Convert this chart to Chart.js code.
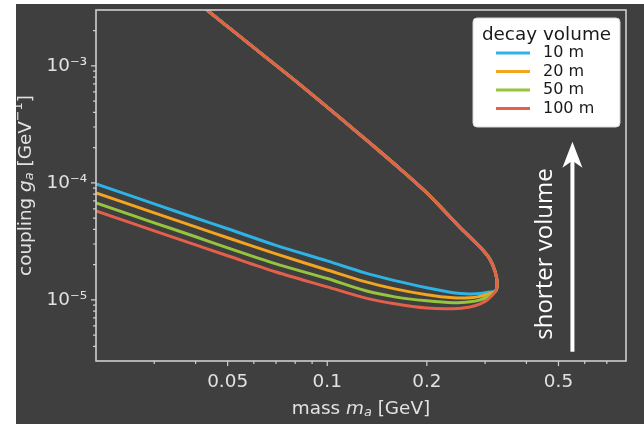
<!DOCTYPE html>
<html>
<head>
<meta charset="utf-8">
<script src="https://cdn.jsdelivr.net/npm/chart.js@4.4.0/dist/chart.umd.min.js"></script>
<style>
  html, body { margin: 0; padding: 0; background: #ffffff; }
  #wrap { position: absolute; left: 16px; top: 4px; width: 628px; height: 420px; background: #3f3f3f; }
</style>
</head>
<body>
<div id="wrap"><canvas id="chart" width="628" height="420"></canvas></div>
<script>
const volumes = ['10 m', '20 m', '50 m', '100 m'];
const lineColors = ['#2db3e6', '#f2a51f', '#96c43d', '#e4604b'];

// lower edge of the sensitive region (long lifetime side), masses in GeV
const massLower = [0.02, 0.03, 0.04, 0.05, 0.07, 0.1, 0.13, 0.16, 0.2, 0.24, 0.27, 0.29, 0.305];
const couplingLower10 = [9.8e-5, 6.6e-5, 5.0e-5, 4.05e-5, 2.92e-5, 2.15e-5, 1.70e-5, 1.46e-5, 1.27e-5, 1.15e-5, 1.12e-5, 1.13e-5, 1.16e-5];
const couplingLower20 = [8.2e-5, 5.54e-5, 4.2e-5, 3.39e-5, 2.47e-5, 1.80e-5, 1.43e-5, 1.24e-5, 1.105e-5, 1.04e-5, 1.04e-5, 1.07e-5, 1.12e-5];
const couplingLower50 = [6.75e-5, 4.55e-5, 3.46e-5, 2.78e-5, 2.03e-5, 1.52e-5, 1.20e-5, 1.06e-5, 9.8e-6, 9.43e-6, 9.62e-6, 1.0e-5, 1.06e-5];
const couplingLower100 = [5.76e-5, 3.89e-5, 2.95e-5, 2.38e-5, 1.73e-5, 1.29e-5, 1.04e-5, 9.25e-6, 8.5e-6, 8.4e-6, 8.7e-6, 9.25e-6, 1.0e-5];

// rounded tip and upper edge (short lifetime side), practically the same for every volume
const massUpper = [0.3228, 0.3263, 0.3218, 0.3097, 0.293, 0.2734, 0.2516, 0.2043, 0.166, 0.1348, 0.1094, 0.0829, 0.0628, 0.051, 0.0429, 0.040];
const couplingUpper = [1.19e-5, 1.37e-5, 1.74e-5, 2.24e-5, 2.73e-5, 3.32e-5, 4.17e-5, 7.74e-5, 1.317e-4, 2.18e-4, 3.59e-4, 6.88e-4, 1.29e-3, 2.07e-3, 3.07e-3, 3.74e-3];

const xMajorTicks = [0.05, 0.1, 0.2, 0.5];
const xTickLabels = ['0.05', '0.1', '0.2', '0.5'];
const xMinorTicks = [0.03, 0.04, 0.06, 0.07, 0.08, 0.09, 0.3, 0.4, 0.6, 0.7];
const yMajorTicks = [1e-5, 1e-4, 1e-3];
const yTickLabels = ['10\u207B\u2075', '10\u207B\u2074', '10\u207B\u00B3'];
const yMinorTicks = [4e-6, 5e-6, 6e-6, 7e-6, 8e-6, 9e-6,
  2e-5, 3e-5, 4e-5, 5e-5, 6e-5, 7e-5, 8e-5, 9e-5,
  2e-4, 3e-4, 4e-4, 5e-4, 6e-4, 7e-4, 8e-4, 9e-4,
  2e-3];

const FONT = "'DejaVu Sans', sans-serif";
const TEXT = '#e2e2e2';
const AXIS = '#cfcfcf';

const lowerSets = [couplingLower10, couplingLower20, couplingLower50, couplingLower100];
const datasets = volumes.map((label, i) => ({
  label: label,
  data: massLower.map((m, k) => ({ x: m, y: lowerSets[i][k] }))
    .concat(massUpper.map((m, k) => ({ x: m, y: couplingUpper[k] }))),
  borderColor: lineColors[i],
  borderWidth: 3,
  pointRadius: 0,
  tension: 0.3,
  fill: false,
  order: volumes.length - 1 - i
}));

// draws mixed text: normal, italic, sub- and superscript pieces, centred on (0,0)
function drawRich(ctx, parts, size) {
  const pieces = parts.map(p => {
    const s = (p.sub || p.sup) ? size * 0.7 : size;
    const f = (p.italic ? 'italic ' : '') + s + 'px ' + FONT;
    ctx.font = f;
    return { text: p.text, font: f, w: ctx.measureText(p.text).width,
      dy: p.sub ? size * 0.22 : (p.sup ? -size * 0.4 : 0) };
  });
  const total = pieces.reduce((a, p) => a + p.w, 0);
  let x = -total / 2;
  ctx.textBaseline = 'middle';
  ctx.textAlign = 'left';
  pieces.forEach(p => {
    ctx.font = p.font;
    ctx.fillText(p.text, x, p.dy);
    x += p.w;
  });
}

const frame = {
  id: 'frame',
  afterDatasetsDraw(chart) {
    const { ctx, chartArea: a, scales } = chart;
    ctx.save();
    ctx.strokeStyle = AXIS;
    ctx.lineWidth = 1.6;
    ctx.strokeRect(a.left, a.top, a.right - a.left, a.bottom - a.top);
    ctx.lineWidth = 1.2;
    ctx.beginPath();
    const tickX = (vals, len) => vals.forEach(v => {
      const px = scales.x.getPixelForValue(v);
      ctx.moveTo(px, a.bottom); ctx.lineTo(px, a.bottom + len);
    });
    const tickY = (vals, len) => vals.forEach(v => {
      const py = scales.y.getPixelForValue(v);
      ctx.moveTo(a.left, py); ctx.lineTo(a.left - len, py);
    });
    tickX(xMajorTicks, 5); tickX(xMinorTicks, 3);
    tickY(yMajorTicks, 5); tickY(yMinorTicks, 3);
    ctx.stroke();
    ctx.restore();
  }
};

const axisTitles = {
  id: 'axisTitles',
  afterDraw(chart) {
    const { ctx, chartArea: a } = chart;
    ctx.save();
    ctx.fillStyle = TEXT;
    ctx.translate((a.left + a.right) / 2, 405);
    drawRich(ctx, [{ text: 'mass ' }, { text: 'm', italic: true }, { text: 'a', italic: true, sub: true }, { text: ' [GeV]' }], 18.4);
    ctx.restore();

    ctx.save();
    ctx.fillStyle = TEXT;
    ctx.translate(10, (a.top + a.bottom) / 2);
    ctx.rotate(-Math.PI / 2);
    drawRich(ctx, [{ text: 'coupling ' }, { text: 'g', italic: true }, { text: 'a', italic: true, sub: true },
      { text: ' [GeV' }, { text: '\u22121', sup: true }, { text: ']' }], 18.4);
    ctx.restore();
  }
};

// white arrow with its caption on the right side of the plot
const arrowNote = {
  id: 'arrowNote',
  afterDatasetsDraw(chart) {
    const { ctx, scales } = chart;
    const x = scales.x.getPixelForValue(0.551);
    const yBase = scales.y.getPixelForValue(3.6e-6);
    const yTip = scales.y.getPixelForValue(2.24e-4);
    ctx.save();
    ctx.strokeStyle = '#ffffff';
    ctx.fillStyle = '#ffffff';
    ctx.lineWidth = 4;
    ctx.beginPath();
    ctx.moveTo(x, yBase);
    ctx.lineTo(x, yTip + 16);
    ctx.stroke();
    ctx.beginPath();
    ctx.moveTo(x, yTip);
    ctx.lineTo(x + 10, yTip + 26);
    ctx.lineTo(x, yTip + 19);
    ctx.lineTo(x - 10, yTip + 26);
    ctx.closePath();
    ctx.fill();

    ctx.translate(scales.x.getPixelForValue(0.455), scales.y.getPixelForValue(2.46e-5));
    ctx.rotate(-Math.PI / 2);
    ctx.font = "24px 'Open Sans', sans-serif";
    ctx.textAlign = 'center';
    ctx.textBaseline = 'middle';
    ctx.fillText('shorter volume', 0, 0);
    ctx.restore();
  }
};

const volumeLegend = {
  id: 'volumeLegend',
  afterDraw(chart) {
    const ctx = chart.ctx;
    const box = { x: 457, y: 14, w: 147, h: 109 };
    ctx.save();
    ctx.fillStyle = '#ffffff';
    ctx.strokeStyle = '#d6d6d6';
    ctx.lineWidth = 1;
    ctx.beginPath();
    ctx.roundRect(box.x, box.y, box.w, box.h, 4);
    ctx.fill();
    ctx.stroke();

    ctx.fillStyle = '#1a1a1a';
    ctx.textBaseline = 'middle';
    ctx.textAlign = 'center';
    ctx.font = '18.4px ' + FONT;
    ctx.fillText('decay volume', box.x + box.w / 2, 31);

    ctx.textAlign = 'left';
    ctx.font = '16px ' + FONT;
    chart.data.datasets.forEach((ds, i) => {
      const y = 49 + i * 18.5;
      ctx.strokeStyle = ds.borderColor;
      ctx.lineWidth = 3;
      ctx.beginPath();
      ctx.moveTo(480, y);
      ctx.lineTo(514, y);
      ctx.stroke();
      ctx.fillText(ds.label, 527, y);
    });
    ctx.restore();
  }
};

new Chart(document.getElementById('chart'), {
  type: 'line',
  data: { datasets: datasets },
  options: {
    responsive: false,
    animation: false,
    layout: { padding: { left: 0, top: 6, right: 18, bottom: 0 } },
    plugins: { legend: { display: false }, tooltip: { enabled: false } },
    scales: {
      x: {
        type: 'logarithmic',
        min: 0.02,
        max: 0.8,
        grid: { display: false, drawTicks: false },
        border: { display: false },
        afterBuildTicks: s => { s.ticks = xMajorTicks.map(v => ({ value: v })); },
        afterFit: s => { s.height = 63; s.paddingLeft = 0; s.paddingRight = 0; },
        ticks: {
          color: TEXT, font: { family: FONT, size: 18.4 }, padding: 10,
          maxRotation: 0, autoSkip: false,
          callback: (v, i) => xTickLabels[i]
        }
      },
      y: {
        type: 'logarithmic',
        min: 3e-6,
        max: 3e-3,
        grid: { display: false, drawTicks: false },
        border: { display: false },
        afterBuildTicks: s => { s.ticks = yMajorTicks.map(v => ({ value: v })); },
        afterFit: s => { s.width = 80; s.paddingTop = 0; s.paddingBottom = 0; },
        ticks: {
          color: TEXT, font: { family: FONT, size: 18.4 }, padding: 9,
          autoSkip: false,
          callback: (v, i) => yTickLabels[i]
        }
      }
    }
  },
  plugins: [frame, axisTitles, arrowNote, volumeLegend]
});
</script>
</body>
</html>
